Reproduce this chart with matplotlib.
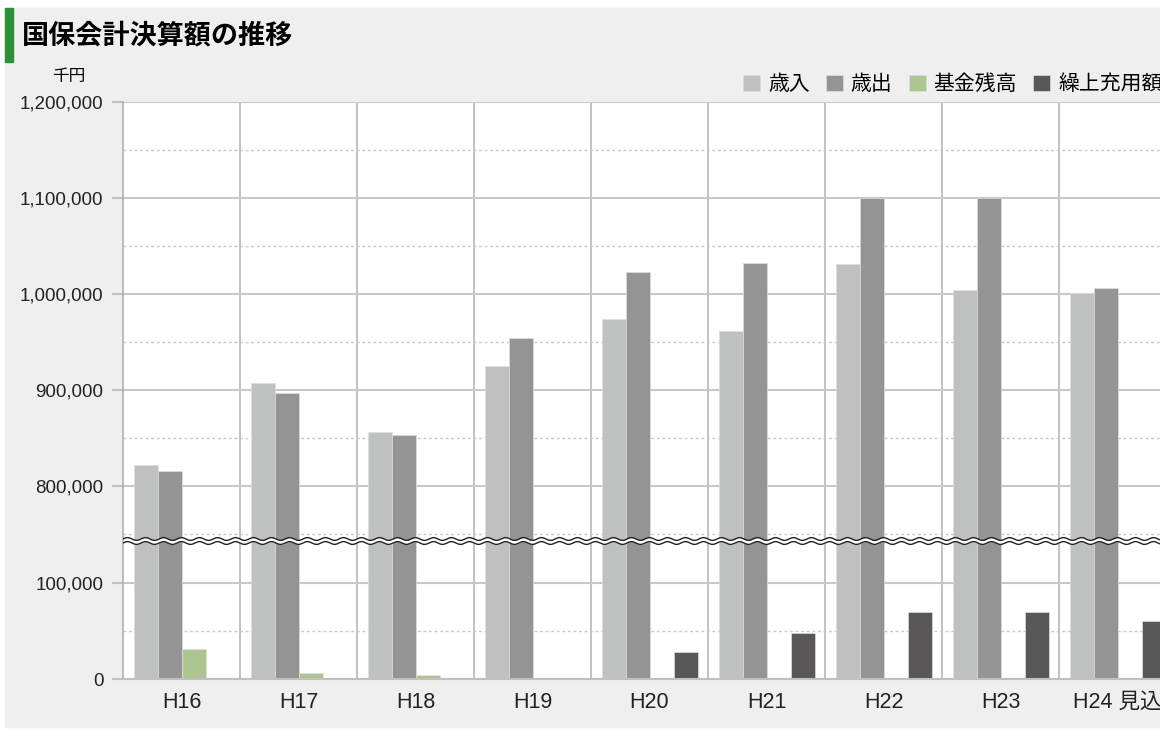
"""国保会計決算額の推移 - broken-axis grouped bar chart."""

import matplotlib.pyplot as plt
import numpy as np
from matplotlib.patches import Rectangle
from matplotlib.ticker import FuncFormatter, MultipleLocator

plt.rcParams["font.family"] = ["Liberation Sans", "Noto Sans CJK JP"]
JP = ["Noto Sans CJK JP", "DejaVu Sans"]

# Data (千円)
years = ["H16", "H17", "H18", "H19", "H20", "H21", "H22", "H23", "H24 見込"]
revenue = [822000, 907000, 856000, 925000, 974000, 961000, 1031000, 1004000, 1001000]
expenditure = [816000, 897000, 853000, 954000, 1023000, 1032000, 1100000, 1100000, 1006000]
fund_balance = [31500, 6000, 4500, 0, 0, 0, 0, 0, 0]
carryover = [0, 0, 0, 0, 28000, 48000, 70000, 69500, 60000]
series_names = ["歳入", "歳出", "基金残高", "繰上充用額"]
colors = ["#bfc1c0", "#949494", "#adc590", "#5a5758"]

W, H = 1160, 730
fig = plt.figure(figsize=(W / 100, H / 100), dpi=100, facecolor="white")

# grey panel + green title marker
fig.patches.append(Rectangle((5 / W, 3 / H), 1, 719 / H, transform=fig.transFigure,
                             color="#eeefee", zorder=-10))
fig.patches.append(Rectangle((5 / W, 1 - 62 / H), 8 / W, 54 / H, transform=fig.transFigure,
                             color="#2f8f3a", zorder=-5))
fig.text(22 / W, 1 - 35 / H, "国保会計決算額の推移", fontsize=19.5, weight="bold",
         va="center", family=JP)
fig.text(69 / W, 1 - 76 / H, "千円", ha="center", va="center", fontsize=12, family=JP)

# plot geometry in pixels
left_px, group_px, n = 123, 117, len(years)
top_px, break_px, bottom_px = 102, 541, 679
px_per_unit = 96 / 100000
left = left_px / W
width = group_px * n / W

ax_top = fig.add_axes([left, 1 - break_px / H, width, (break_px - top_px) / H])
ax_bot = fig.add_axes([left, 1 - bottom_px / H, width, (bottom_px - break_px) / H])
ax_top.set_ylim(1200000 - (break_px - top_px) / px_per_unit, 1200000)
ax_bot.set_ylim(0, (bottom_px - break_px) / px_per_unit)

x = np.arange(n)
bar_w = 24 / group_px
all_series = [revenue, expenditure, fund_balance, carryover]

handles = []
for ax in (ax_top, ax_bot):
    ax.set_facecolor("white")
    ax.set_axisbelow(True)
    for k, (vals, c) in enumerate(zip(all_series, colors)):
        bars = ax.bar(x + (k - 1.5) * bar_w + 0.004, vals, bar_w, color=c,
                      edgecolor="#dedede", linewidth=0.5)
        if ax is ax_top:
            handles.append(bars)
    ax.set_xlim(-0.5, n - 0.5)
    ax.yaxis.set_major_locator(MultipleLocator(100000))
    ax.yaxis.set_minor_locator(MultipleLocator(50000))
    ax.yaxis.set_major_formatter(FuncFormatter(lambda v, p: f"{v:,.0f}"))
    ax.grid(axis="y", which="major", color="#c8c8c8", linewidth=1.5)
    ax.grid(axis="y", which="minor", color="#c8c8c8", linewidth=1.0, linestyle=(0, (2, 2)))
    ax.set_xticks(x + 0.5, minor=True)
    ax.grid(axis="x", which="minor", color="#b8b8b8", linewidth=1.2)
    ax.tick_params(axis="y", which="major", length=8, width=1.5, color="#c0c0c0",
                   pad=6, labelsize=13.5, labelcolor="#222222")
    ax.tick_params(axis="y", which="minor", length=0)
    ax.tick_params(axis="x", which="both", length=0)
    for side in ("top", "right"):
        ax.spines[side].set_visible(False)
    ax.spines["left"].set_color("#b0b0b0")
    ax.spines["left"].set_linewidth(1.2)

ax_top.spines["bottom"].set_visible(False)
ax_top.set_xticks(x)
ax_top.set_xticklabels([])
ax_bot.spines["bottom"].set_color("#c0c0c0")
ax_bot.spines["bottom"].set_linewidth(1.5)
ax_bot.set_xticks(x)
ax_bot.set_xticklabels(years, fontsize=15.5, color="#222222")
ax_bot.tick_params(axis="x", pad=9)

# wavy break marker
ax_w = fig.add_axes([left, 1 - (break_px + 6) / H, width, 12 / H])
ax_w.axis("off")
xs = np.linspace(0, group_px * n, 3000)
wave = 1.4 * np.sin(2 * np.pi * xs / 18)
ax_w.fill_between(xs, wave - 2, wave + 2, color="white", linewidth=0)
ax_w.plot(xs, wave + 2, color="#222222", linewidth=1)
ax_w.plot(xs, wave - 2, color="#222222", linewidth=1)
ax_w.set_xlim(0, group_px * n)
ax_w.set_ylim(-6, 6)

fig.legend(handles, series_names, loc="center left", bbox_to_anchor=(743 / W, 1 - 84 / H),
           ncol=4, frameon=False, prop={"family": JP, "size": 15},
           handlelength=0.82, handleheight=0.82, handletextpad=0.38,
           columnspacing=0.77, borderaxespad=0, borderpad=0)

fig.savefig("out.png", dpi=100)
